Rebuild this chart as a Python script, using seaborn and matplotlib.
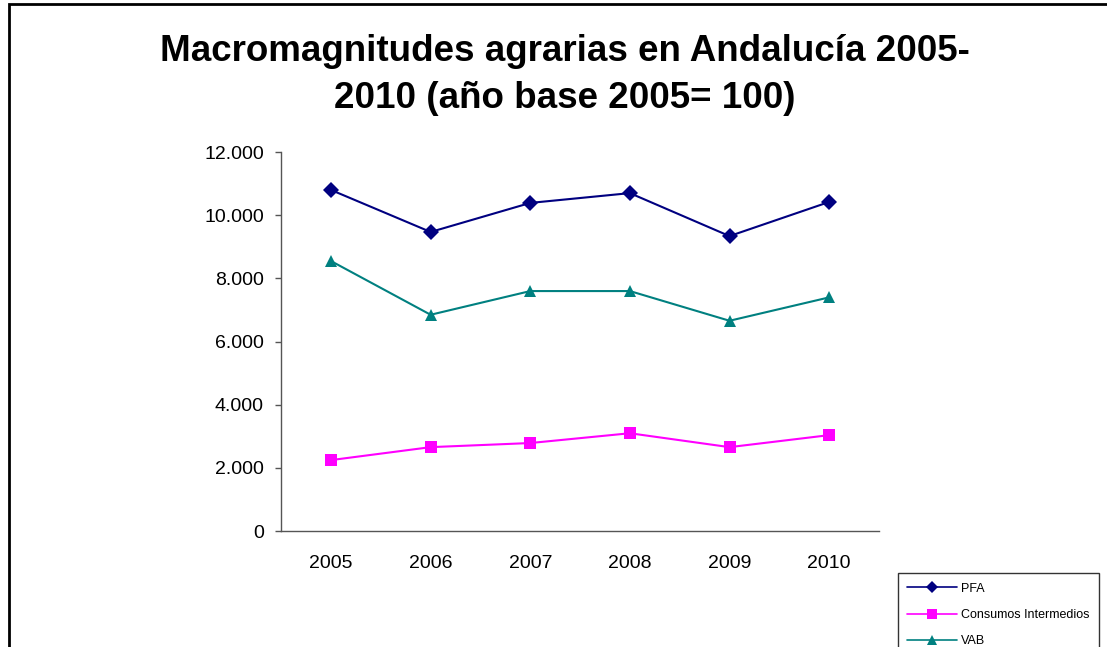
import numpy as np
import pandas as pd
from matplotlib import pyplot as plt
from matplotlib.patches import Rectangle
import seaborn as sns

sns.set_style("white")
plt.rcParams['font.family'] = ['Liberation Sans', 'DejaVu Sans']
plt.rcParams['text.color'] = 'black'

years = ["2005", "2006", "2007", "2008", "2009", "2010"]
pfa = [10800, 9470, 10390, 10700, 9340, 10420]
consumos = [2250, 2660, 2790, 3100, 2660, 3040]
vab = [8550, 6850, 7600, 7600, 6660, 7400]

series = ["PFA", "Consumos Intermedios", "VAB"]
colors = {"PFA": "#000080", "Consumos Intermedios": "#FF00FF", "VAB": "#008080"}
markers = {"PFA": "D", "Consumos Intermedios": "s", "VAB": "^"}

df = pd.DataFrame({
    "pos": list(range(len(years))) * 3,
    "valor": pfa + consumos + vab,
    "serie": [s for s in series for _ in years],
})

fig = plt.figure(figsize=(11.07, 6.47), dpi=100)
ax = fig.add_axes([0.254, 0.179, 0.540, 0.586])

sns.lineplot(data=df, x="pos", y="valor", hue="serie", style="serie",
             palette=colors, markers=markers, dashes=False, markersize=8.5,
             markeredgewidth=0, linewidth=1.5, ax=ax, legend=False)

ax.set_xlim(-0.5, len(years) - 0.5)
ax.set_ylim(0, 12000)
ax.set_yticks(np.arange(0, 12001, 2000))
ax.set_yticklabels(["0"] + [f"{v // 1000}.000" for v in range(2000, 12001, 2000)])
ax.set_xticks(np.arange(len(years)))
ax.set_xticklabels(years)
ax.set_xticks(np.arange(-0.5, len(years), 1), minor=True)
ax.tick_params(axis="x", which="major", length=0, pad=17, labelsize=14, labelcolor="black")
ax.tick_params(axis="x", which="minor", length=4.5, direction="out", color="#555555", width=1)
ax.tick_params(axis="y", length=4.5, direction="out", color="#555555", width=1,
               labelsize=14, labelcolor="black", pad=8, left=True)
ax.set_xlabel("")
ax.set_ylabel("")
for side in ["top", "right"]:
    ax.spines[side].set_visible(False)
for side in ["left", "bottom"]:
    ax.spines[side].set_color("#555555")
    ax.spines[side].set_linewidth(1)

fig.text(0.510, 0.884, "Macromagnitudes agrarias en Andalucía 2005-\n2010 (año base 2005= 100)",
         ha="center", va="center", fontsize=26.5, fontweight="bold", linespacing=1.45)

handles = [plt.Line2D([], [], color=colors[s], marker=markers[s], markersize=6.5,
                      markeredgewidth=0, linewidth=1.2) for s in series]
leg = fig.legend(handles, series, loc="upper left", bbox_to_anchor=(0.811, 0.114),
                 frameon=True, fancybox=False, edgecolor="black", handlelength=4,
                 handletextpad=0.3, labelspacing=1.15, borderaxespad=0, borderpad=0.75,
                 prop={"size": 9})
leg.get_frame().set_linewidth(1)

fig.patches.append(Rectangle((9 / 1107, -0.1), 1.2, 1.1 - 4 / 647, transform=fig.transFigure,
                             fill=False, edgecolor="black", linewidth=2, figure=fig))

fig.savefig("out.png", dpi=100)
